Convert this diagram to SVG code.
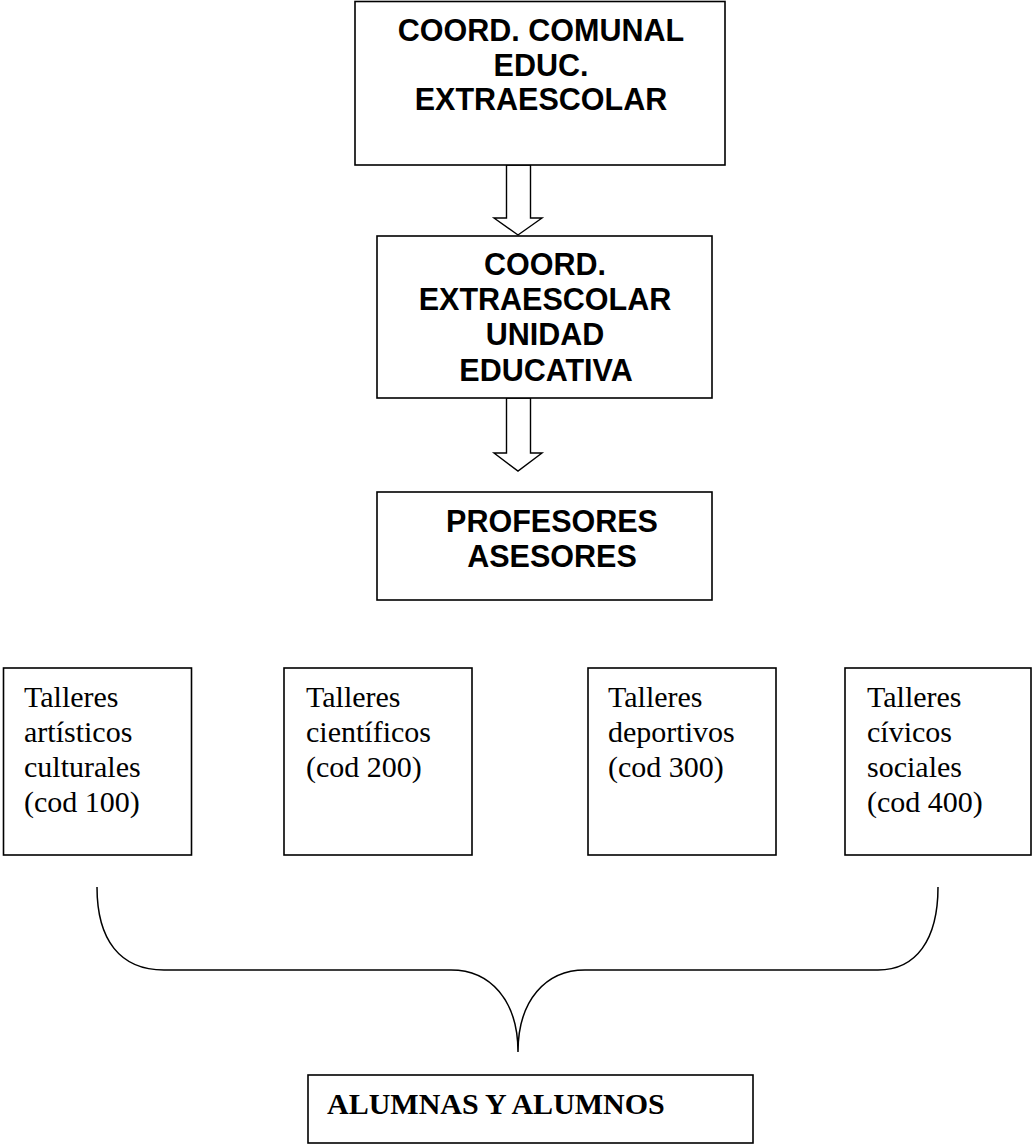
<svg xmlns="http://www.w3.org/2000/svg" width="1033" height="1146" viewBox="0 0 1033 1146">
<style>
.box{fill:#fff;stroke:#000;stroke-width:1.6}
.arr{fill:#fff;stroke:#000;stroke-width:1.4;stroke-linejoin:miter}
.hb{font-family:"Liberation Sans",Arial,sans-serif;font-weight:bold;font-size:30.5px;text-anchor:middle;fill:#000}
.tr{font-family:"Liberation Serif","Times New Roman",serif;font-size:30px;fill:#000}
.trb{font-family:"Liberation Serif","Times New Roman",serif;font-size:30px;font-weight:bold;fill:#000}
.brace{fill:none;stroke:#000;stroke-width:1.5}
</style>
<rect width="1033" height="1146" fill="#fff"/>
<g id="connectors">
<polygon class="arr" points="506.5,165 530.5,165 530.5,218 542,218 518,235 494,218 506.5,218"/>
<polygon class="arr" points="506.5,398 530.5,398 530.5,453 542,453 518,471 494,453 506.5,453"/>
<path class="brace" d="M97,887 C97,940 120,970 164,970 L451,970 C490,970 518,1000 518,1052 C518,1000 546,970 585,970 L878,970 C916,970 938,940 938,887"/>
</g>
<g id="coord-comunal">
<rect class="box" x="355" y="1.5" width="370" height="163.5"/>
<text class="hb" x="541" y="41">COORD. COMUNAL</text>
<text class="hb" x="541" y="76">EDUC.</text>
<text class="hb" x="541" y="110">EXTRAESCOLAR</text>
</g>
<g id="coord-extraescolar">
<rect class="box" x="377" y="236" width="335" height="162"/>
<text class="hb" x="545" y="275">COORD.</text>
<text class="hb" x="545" y="310">EXTRAESCOLAR</text>
<text class="hb" x="545" y="345">UNIDAD</text>
<text class="hb" x="546" y="381">EDUCATIVA</text>
</g>
<g id="profesores">
<rect class="box" x="377" y="492" width="335" height="108"/>
<text class="hb" x="552" y="532">PROFESORES</text>
<text class="hb" x="552" y="567">ASESORES</text>
</g>
<g id="taller-100">
<rect class="box" x="3.5" y="668" width="188" height="187"/>
<text class="tr" x="24" y="707">Talleres</text>
<text class="tr" x="24" y="742">artísticos</text>
<text class="tr" x="24" y="777">culturales</text>
<text class="tr" x="24" y="812">(cod 100)</text>
</g>
<g id="taller-200">
<rect class="box" x="284" y="668" width="188" height="187"/>
<text class="tr" x="306" y="707">Talleres</text>
<text class="tr" x="306" y="742">científicos</text>
<text class="tr" x="306" y="777">(cod 200)</text>
</g>
<g id="taller-300">
<rect class="box" x="588" y="668" width="188" height="187"/>
<text class="tr" x="608" y="707">Talleres</text>
<text class="tr" x="608" y="742">deportivos</text>
<text class="tr" x="608" y="777">(cod 300)</text>
</g>
<g id="taller-400">
<rect class="box" x="845" y="668" width="186" height="187"/>
<text class="tr" x="867" y="707">Talleres</text>
<text class="tr" x="867" y="742">cívicos</text>
<text class="tr" x="867" y="777">sociales</text>
<text class="tr" x="867" y="812">(cod 400)</text>
</g>
<g id="alumnos">
<rect class="box" x="308" y="1075" width="445" height="68"/>
<text class="trb" x="327" y="1114">ALUMNAS Y ALUMNOS</text>
</g>
</svg>
